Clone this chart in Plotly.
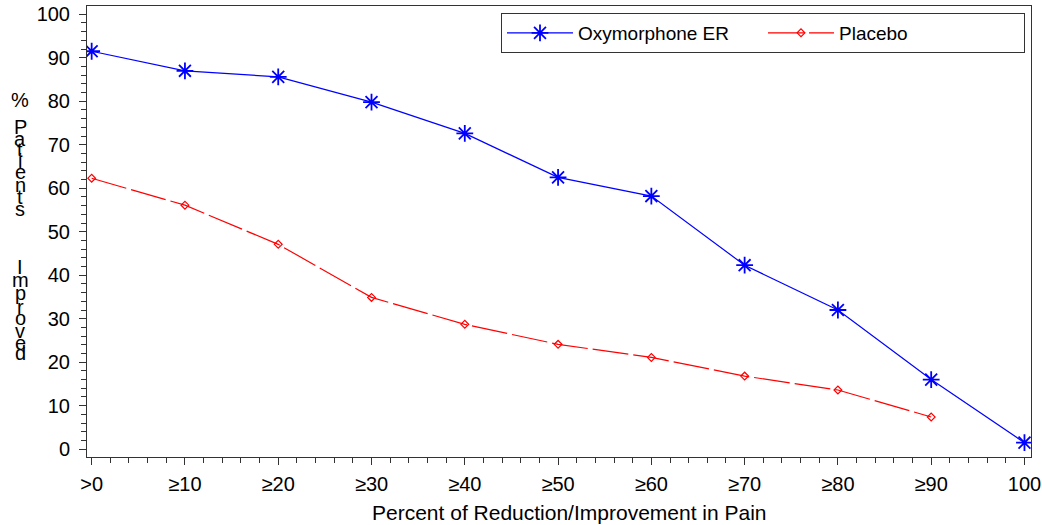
import plotly.graph_objects as go

x_vals = [0, 10, 20, 30, 40, 50, 60, 70, 80, 90, 100]
tick_labels = [">0", "≥10", "≥20", "≥30", "≥40", "≥50", "≥60", "≥70", "≥80", "≥90", "100"]

oxy_x = [0, 10, 20, 30, 40, 50, 60, 70, 80, 90, 100]
oxy_y = [91.5, 87.0, 85.6, 79.8, 72.6, 62.5, 58.2, 42.3, 32.0, 16.0, 1.5]

plc_x = [0, 10, 20, 30, 40, 50, 60, 70, 80, 90]
plc_y = [62.3, 56.1, 47.1, 34.9, 28.7, 24.1, 21.1, 16.8, 13.6, 7.4]

FONT = "Liberation Sans, Arial, sans-serif"

fig = go.Figure()
fig.add_trace(go.Scatter(
    x=oxy_x, y=oxy_y, mode="lines+markers", name="Oxymorphone ER",
    line=dict(color="#0000ff", width=1.2),
    marker=dict(symbol="asterisk-open", size=14, color="#0000ff",
                line=dict(color="#0000ff", width=1.8)),
))
fig.add_trace(go.Scatter(
    x=plc_x, y=plc_y, mode="lines+markers", name="Placebo",
    line=dict(color="#ff0000", width=1.2, dash="36px,5px"),
    marker=dict(symbol="diamond-open", size=6, color="#ff0000",
                line=dict(color="#ff0000", width=1.2)),
))

L, R, T, B = 87, 11, 6, 68
W, H = 1042, 525
pw, ph = W - L - R, H - T - B

def px_to_paper_y(py):
    return (H - B - py) / ph

def px_to_paper_x(px):
    return (px - L) / pw

# vertical stacked y-axis label
ylabel_chars = ["%", "P", "a", "t", "i", "e", "n", "t", "s", "I", "m", "p", "r", "o", "v", "e", "d"]
ylabel_pos = [100, 127, 139, 150, 161, 172, 185, 197, 209, 267, 280, 293, 307, 318, 331, 343, 353]
annotations = []
for ch, py in zip(ylabel_chars, ylabel_pos):
    annotations.append(dict(
        text=ch, xref="paper", yref="paper",
        x=px_to_paper_x(20), y=px_to_paper_y(py),
        xanchor="center", yanchor="middle", showarrow=False,
        font=dict(family=FONT, size=20, color="#000"),
    ))

annotations.append(dict(
    text="Percent of Reduction/Improvement in Pain", xref="paper", yref="paper",
    x=px_to_paper_x(569), y=px_to_paper_y(512),
    xanchor="center", yanchor="middle", showarrow=False,
    font=dict(family=FONT, size=21, color="#000"),
))

axis_common = dict(
    showline=True, linecolor="#333", linewidth=1, mirror=True,
    ticks="outside", ticklen=7, tickwidth=1, tickcolor="#333",
    showgrid=False, zeroline=False, automargin=False,
    tickfont=dict(family=FONT, size=20, color="#000"),
)

fig.update_layout(
    width=W, height=H,
    margin=dict(l=L, r=R, t=T, b=B, autoexpand=False),
    paper_bgcolor="white", plot_bgcolor="white",
    xaxis=dict(
        range=[-0.5, 100.7], tickmode="array", tickvals=x_vals, ticktext=tick_labels,
        minor=dict(dtick=2, ticks="outside", ticklen=5, tickcolor="#333"),
        ticklabelstandoff=2,
        **axis_common,
    ),
    yaxis=dict(
        range=[-1.8, 101.9], tickmode="linear", tick0=0, dtick=10,
        minor=dict(dtick=2, ticks="outside", ticklen=5, tickcolor="#333"),
        ticklabelstandoff=5,
        **axis_common,
    ),
    legend=dict(
        orientation="h", xref="paper", yref="paper",
        x=px_to_paper_x(1025), y=px_to_paper_y(13), xanchor="right", yanchor="top",
        bordercolor="#333", borderwidth=1, bgcolor="white",
        font=dict(family=FONT, size=19, color="#000"),
        itemwidth=66, entrywidth=180, entrywidthmode="pixels",
        tracegroupgap=0,
    ),
    annotations=annotations,
    showlegend=True,
)

fig.write_html(
    "out.html",
    config={"displayModeBar": False},
    post_script="document.body.style.margin='0';document.body.style.overflow='hidden';",
)
